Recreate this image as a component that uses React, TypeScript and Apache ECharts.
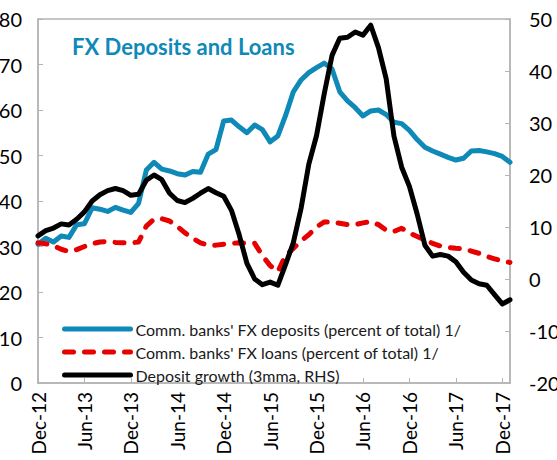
import React, { useEffect, useRef } from "react";
import * as echarts from "echarts";

const monthNames = ["Jan", "Feb", "Mar", "Apr", "May", "Jun", "Jul", "Aug", "Sep", "Oct", "Nov", "Dec"];
// Dec-12 .. Jan-18
const categories: string[] = (() => {
  const out: string[] = ["Dec-12"];
  for (let y = 13; y <= 18; y++) {
    for (let m = 0; m < 12; m++) {
      if (y === 18 && m > 0) break;
      out.push(`${monthNames[m]}-${y}`);
    }
  }
  return out;
})();

const fxDeposits = [
  30.5, 31.8, 31.0, 32.3, 32.0, 34.8, 35.0, 38.5, 38.2, 37.7, 38.6, 38.0, 37.5,
  39.5, 46.8, 48.5, 47.0, 46.6, 46.0, 45.7, 46.5, 46.3, 50.3, 51.3, 57.6,
  57.8, 56.3, 55.0, 56.7, 55.7, 53.0, 54.3, 58.8, 64.0, 66.6, 68.2, 69.3,
  70.3, 69.0, 64.0, 62.0, 60.5, 58.7, 59.8, 60.0, 59.0, 57.3, 57.0, 55.5,
  53.5, 51.8, 51.0, 50.3, 49.6, 49.0, 49.4, 51.0, 51.1, 50.8, 50.4, 49.8, 48.5,
];

const fxLoans = [
  30.8, 30.6, 30.2, 29.4, 28.9, 29.3, 30.0, 30.6, 31.0, 31.1, 30.9, 30.8, 30.8,
  31.0, 34.5, 36.0, 36.1, 35.6, 34.4, 33.0, 31.8, 30.8, 30.3, 30.3, 30.5,
  30.7, 30.8, 30.7, 30.7, 28.0, 25.8, 24.5, 28.0, 29.6, 31.2, 32.6, 34.3,
  35.4, 35.4, 35.1, 34.8, 34.8, 35.2, 35.5, 34.8, 33.6, 33.3, 34.0, 33.0,
  32.2, 31.4, 30.7, 30.1, 29.8, 29.6, 29.5, 29.0, 28.5, 27.8, 27.3, 26.8, 26.5,
];

const depositGrowth = [
  8.3, 9.3, 9.8, 10.6, 10.4, 11.5, 12.9, 15.0, 16.2, 17.0, 17.4, 17.0, 16.1,
  16.3, 19.0, 20.0, 19.1, 16.5, 15.1, 14.7, 15.5, 16.5, 17.4, 16.6, 15.9,
  13.2, 8.5, 3.0, 0.0, -1.1, -0.6, -1.2, 2.8, 7.0, 13.6, 22.1, 27.6,
  35.7, 43.0, 46.3, 46.5, 47.5, 46.9, 48.8, 44.5, 38.5, 27.5, 21.5, 17.8,
  12.5, 6.5, 4.4, 4.7, 4.4, 3.3, 1.3, -0.2, -0.9, -1.2, -3.0, -4.8, -4.0,
];

const seriesNames = [
  "Comm. banks' FX deposits (percent of total) 1/",
  "Comm. banks' FX loans (percent of total) 1/",
  "Deposit growth (3mma, RHS)",
];

const FONT = "Lato, 'Noto Sans', sans-serif";
const BLUE = "#0f89b8";
const RED = "#e60000";
const AXIS = "#b4b4b4";

export default function App() {
  const ref = useRef<HTMLDivElement>(null);
  useEffect(() => {
    if (!ref.current) return;
    const chart = echarts.init(ref.current, undefined, { renderer: "svg" });
    chart.setOption({
      animation: false,
      backgroundColor: "#ffffff",
      textStyle: { fontFamily: FONT },
      title: {
        text: "FX Deposits and Loans",
        left: 67,
        top: 30,
        textStyle: { color: BLUE, fontSize: 22, fontWeight: "bold", fontFamily: FONT },
      },
      grid: {
        left: 38,
        right: 47,
        top: 19,
        bottom: 77,
        containLabel: false,
        outerBoundsMode: "none",
        show: true,
        borderColor: AXIS,
        borderWidth: 1.5,
      },
      legend: {
        orient: "vertical",
        left: 57,
        top: 316,
        itemWidth: 66,
        itemHeight: 12,
        itemGap: 7,
        itemStyle: { opacity: 0 },
        lineStyle: { width: 5, cap: "round" },
        textStyle: { fontSize: 16, color: "#1a1a1a", fontFamily: FONT },
        data: seriesNames,
      },
      xAxis: {
        type: "category",
        data: categories,
        boundaryGap: false,
        axisLine: { lineStyle: { color: AXIS, width: 1.5 } },
        axisTick: { inside: true, length: 5, interval: 5, lineStyle: { color: AXIS } },
        axisLabel: {
          interval: 5,
          rotate: 90,
          margin: 9,
          fontSize: 19,
          color: "#000",
          fontFamily: FONT,
          padding: [10, 0, 0, 0],
        },
        splitLine: { show: false },
      },
      yAxis: [
        {
          type: "value",
          min: 0,
          max: 80,
          interval: 10,
          axisLine: { show: true, lineStyle: { color: AXIS, width: 1.5 } },
          axisTick: { show: true, inside: true, length: 5, lineStyle: { color: AXIS } },
          axisLabel: { fontSize: 20, color: "#000", margin: 16, fontFamily: FONT },
          splitLine: { show: false },
        },
        {
          type: "value",
          min: -20,
          max: 50,
          interval: 10,
          position: "right",
          axisLine: { show: true, lineStyle: { color: AXIS, width: 1.5 } },
          axisTick: { show: true, inside: true, length: 5, lineStyle: { color: AXIS } },
          axisLabel: { fontSize: 20, color: "#000", margin: 19, fontFamily: FONT },
          splitLine: { show: false },
        },
      ],
      series: [
        {
          name: seriesNames[0],
          type: "line",
          data: fxDeposits,
          yAxisIndex: 0,
          symbol: "none",
          color: BLUE,
          lineStyle: { color: BLUE, width: 5, cap: "round", join: "round" },
          z: 2,
        },
        {
          name: seriesNames[1],
          type: "line",
          data: fxLoans,
          yAxisIndex: 0,
          symbol: "none",
          color: RED,
          lineStyle: { color: RED, width: 5, type: [9, 11], cap: "round", join: "round" },
          z: 3,
        },
        {
          name: seriesNames[2],
          type: "line",
          data: depositGrowth,
          yAxisIndex: 1,
          symbol: "none",
          color: "#000",
          lineStyle: { color: "#000", width: 5, cap: "round", join: "round" },
          z: 4,
        },
      ],
    });
    return () => chart.dispose();
  }, []);
  return (
    <div
      ref={ref}
      style={{ position: "fixed", left: 0, top: 0, width: 557, height: 460, background: "#fff" }}
    />
  );
}
